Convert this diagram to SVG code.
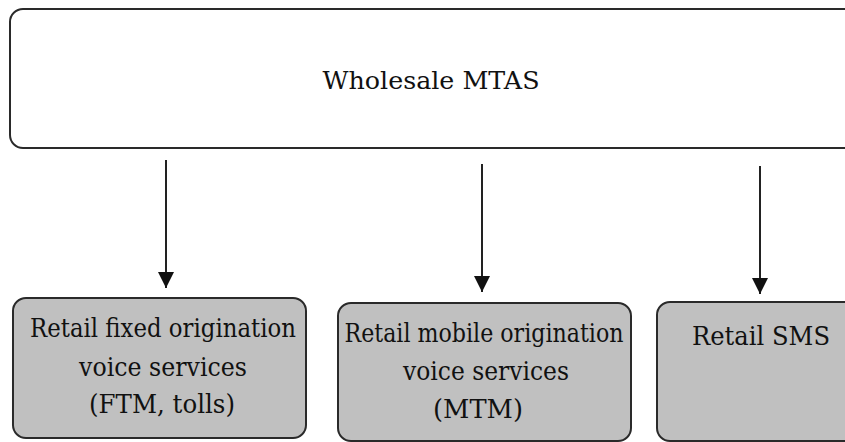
<svg xmlns="http://www.w3.org/2000/svg" width="845" height="442" viewBox="0 0 845 442">
<style>
.top{fill:#ffffff;stroke:#2a2a2a;stroke-width:2}
.box{fill:#c0c0c0;stroke:#2a2a2a;stroke-width:2}
.conn{stroke:#222;stroke-width:2;fill:none;marker-end:url(#ah)}
</style>
<defs>
<marker id="ah" markerUnits="userSpaceOnUse" markerWidth="18" markerHeight="16" refX="16" refY="8" orient="auto">
<path d="M0,0 L16,8 L0,16 Z" fill="#111"/>
</marker>
</defs>
<g id="wholesale">
<rect class="top" x="10" y="9" width="860" height="139" rx="13"/>
<text x="431" y="89" font-family="'DejaVu Serif', serif" font-size="24" fill="#111" text-anchor="middle" textLength="217" lengthAdjust="spacingAndGlyphs">Wholesale MTAS</text>
</g>
<g id="connectors">
<line class="conn" x1="166" y1="160" x2="166" y2="288"/>
<line class="conn" x1="482" y1="164" x2="482" y2="292"/>
<line class="conn" x1="760" y1="166" x2="760" y2="294"/>
</g>
<g id="fixed" font-family="'DejaVu Serif', serif" font-size="26" fill="#111" text-anchor="middle">
<rect class="box" x="13" y="298" width="293" height="140" rx="13"/>
<text x="163" y="337" textLength="266" lengthAdjust="spacingAndGlyphs">Retail fixed origination</text>
<text x="163" y="376" textLength="168" lengthAdjust="spacingAndGlyphs">voice services</text>
<text x="162" y="413" textLength="146" lengthAdjust="spacingAndGlyphs">(FTM, tolls)</text>
</g>
<g id="mobile" font-family="'DejaVu Serif', serif" font-size="26" fill="#111" text-anchor="middle">
<rect class="box" x="338" y="303" width="293" height="138" rx="13"/>
<text x="484" y="342" textLength="279" lengthAdjust="spacingAndGlyphs">Retail mobile origination</text>
<text x="486" y="380" textLength="166" lengthAdjust="spacingAndGlyphs">voice services</text>
<text x="478" y="418" textLength="90" lengthAdjust="spacingAndGlyphs">(MTM)</text>
</g>
<g id="sms" font-family="'DejaVu Serif', serif" font-size="26" fill="#111" text-anchor="middle">
<rect class="box" x="657" y="302" width="220" height="139" rx="13"/>
<text x="761" y="345" textLength="138" lengthAdjust="spacingAndGlyphs">Retail SMS</text>
</g>
</svg>
